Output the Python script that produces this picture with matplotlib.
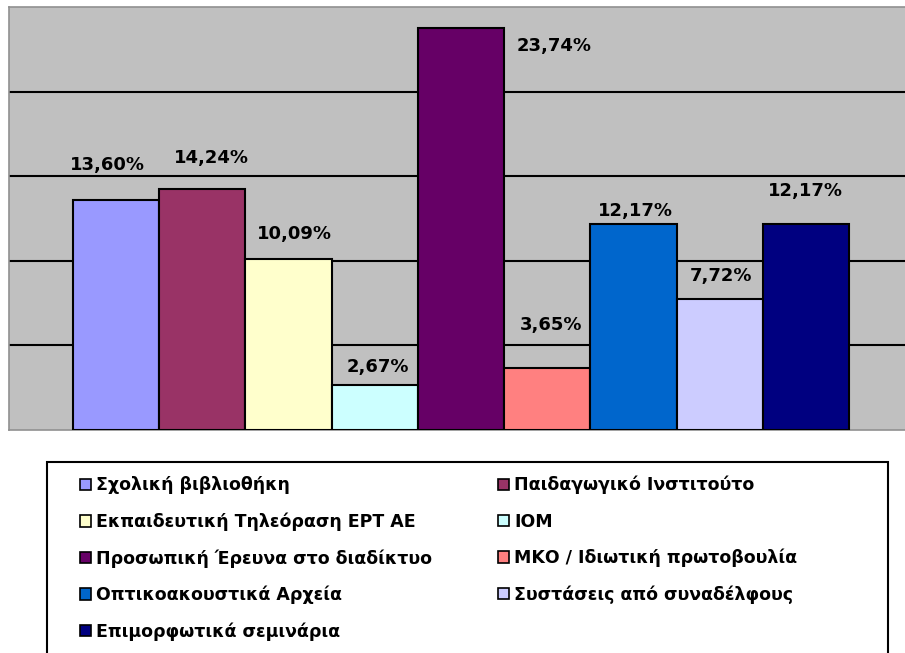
import numpy as np
import matplotlib
matplotlib.use("Agg")
from matplotlib import pyplot as plt
from matplotlib.patches import Rectangle, Patch

# data
categories = ["Σχολική βιβλιοθήκη", "Παιδαγωγικό Ινστιτούτο",
              "Εκπαιδευτική Τηλεόραση ΕΡΤ ΑΕ", "ΙΟΜ",
              "Προσωπική Έρευνα στο διαδίκτυο", "ΜΚΟ / Ιδιωτική πρωτοβουλία",
              "Οπτικοακουστικά Αρχεία", "Συστάσεις από συναδέλφους",
              "Επιμορφωτικά σεμινάρια"]
values = [13.60, 14.24, 10.09, 2.67, 23.74, 3.65, 12.17, 7.72, 12.17]
colors = ["#9999FF", "#993366", "#FFFFCC", "#CCFFFF", "#660066",
          "#FF8080", "#0066CC", "#CCCCFF", "#000080"]

# label offsets (pixels) relative to top centre of each bar, as in the original
label_dx = [-9, 9, 6, 3.5, 93, 3.5, 2, 1.5, 0]
label_dy = [35, 31, 25, 18, -18, 43, 13, 23, 33]

plt.rcParams['font.family'] = ['DejaVu Sans']
plt.rcParams['font.weight'] = 'bold'

fig = plt.figure(figsize=(9.05, 6.53), dpi=100)
ax = fig.add_axes([9/905, 1-430/653, 1-9/905, 423/653])
ax.set_facecolor("#C0C0C0")

x = np.arange(len(values))
bars = ax.bar(x, values, width=1.0, color=colors, edgecolor="black", linewidth=1.5, zorder=3)

for i, b in enumerate(bars):
    txt = ("%.2f" % values[i]).replace(".", ",") + "%"
    ax.annotate(txt, (b.get_x() + b.get_width()/2, b.get_height()),
                xytext=(label_dx[i], label_dy[i]), textcoords="offset pixels",
                ha="center", va="center", fontsize=13, fontweight="bold", zorder=4)

ax.set_ylim(0, 25)
ax.set_xlim(-0.5 - 64/86.2, 8.5 + 56/86.2)
ax.set_yticks([5, 10, 15, 20])
ax.yaxis.grid(True, color="black", linewidth=1.5)
ax.set_axisbelow(True)
ax.tick_params(left=False, bottom=False, labelleft=False, labelbottom=False)
for s in ["left", "top", "bottom"]:
    ax.spines[s].set_color("#909090")
    ax.spines[s].set_linewidth(1.2)
ax.spines["right"].set_visible(False)

# legend box
fig.patches.append(Rectangle((47/905, 1-655/653), (888-47)/905, (655-462)/653,
                             transform=fig.transFigure, facecolor="white",
                             edgecolor="black", linewidth=1.5, zorder=0))

handles = [Patch(facecolor=c, edgecolor="black", linewidth=1.2) for c in colors]
order = [0, 2, 4, 6, 8, 1, 3, 5, 7]
leg = fig.legend([handles[i] for i in order], [categories[i] for i in order],
                 ncol=2, loc="upper left", bbox_to_anchor=(80/905, 1-476/653),
                 frameon=False, prop={"size": 12.5, "weight": "bold"},
                 handlelength=0.65, handleheight=0.65, handletextpad=0.3,
                 labelspacing=1.04, columnspacing=3.75, borderaxespad=0, borderpad=0)

fig.savefig("out.png", dpi=100)
plt.close()
